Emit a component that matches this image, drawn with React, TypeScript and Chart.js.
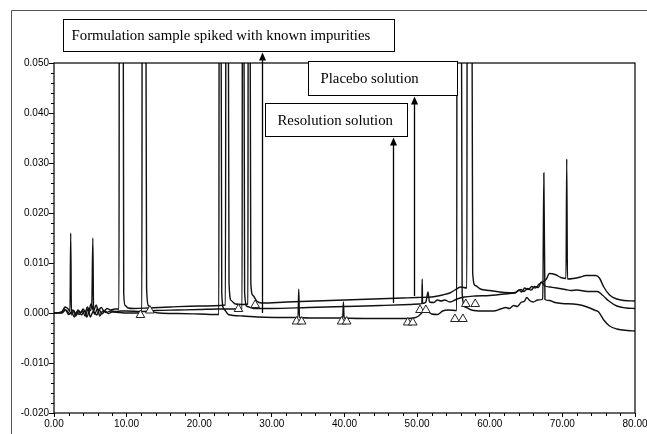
import React, { useEffect, useRef } from "react";
import { Chart, registerables } from "chart.js";

Chart.register(...registerables);

// ---------- data (time in min, absorbance in AU) ----------
const xMajorTicks = [0, 10, 20, 30, 40, 50, 60, 70, 80];
const yMajorTicks = [-0.02, -0.01, 0, 0.01, 0.02, 0.03, 0.04, 0.05];

// trace ending highest (formulation sample spiked)
const formulationTrace: [number, number][] = [
  [0, 0], [0.8, 0.0001], [1.2, 0.0004], [1.5, 0.0012], [1.9, 0.0009], [2.2, 0.0003], [2.3, 0.016], [2.4, -0.0004],
  [2.7, 0.0005], [3.0, -0.0002], [3.3, 0.0006], [3.7, 0.0001], [4.0, 0.0008], [4.3, 0.0002], [4.6, 0.0012],
  [4.9, 0.0004], [5.2, 0.0014], [5.35, 0.015], [5.45, 0.0004], [5.8, 0.0016], [6.1, 0.0005], [6.5, 0.0011],
  [6.9, 0.0004], [7.3, 0.0009], [7.8, 0.0006], [8.4, 0.0008], [8.95, 0.0008], [9.0, 0.09], [9.5, 0.09],
  [9.6, 0.004], [9.8, 0.0015], [10.2, 0.001], [11, 0.0009], [13, 0.001], [16, 0.0012], [20, 0.0014],
  [23.6, 0.0016], [23.7, 0.09], [23.95, 0.09], [24.1, 0.006], [24.4, 0.0025], [25, 0.0018], [26.0, 0.0017],
  [26.7, 0.0018], [26.75, 0.09], [26.95, 0.09], [27.1, 0.006], [27.4, 0.0035], [27.9, 0.0024], [28.6, 0.002],
  [32, 0.0022], [38, 0.0025], [44, 0.0028], [48, 0.003], [50, 0.0031], [52, 0.0032], [53.5, 0.0036],
  [54.5, 0.004], [55.2, 0.0046], [56, 0.0052], [56.85, 0.005], [56.9, 0.09], [57.5, 0.09], [57.65, 0.008],
  [58, 0.0055], [58.7, 0.0048], [60, 0.0045], [62, 0.0041], [63.5, 0.004], [64, 0.0046], [64.4, 0.0042],
  [64.8, 0.005], [65.3, 0.0047], [65.8, 0.0053], [66.3, 0.005], [66.8, 0.0058], [67.3, 0.0062], [67.8, 0.0068],
  [68.2, 0.0079], [69, 0.0077], [69.8, 0.0071], [70.5, 0.0069], [70.6, 0.0308], [70.7, 0.0068], [71.5, 0.0069],
  [72.5, 0.0072], [73.2, 0.0075], [74.6, 0.0075], [75.1, 0.007], [75.7, 0.0052], [76.5, 0.0036], [77.5, 0.0028],
  [78.5, 0.0025], [80, 0.0024],
];

// middle trace (placebo solution)
const placeboTrace: [number, number][] = [
  [0, 0], [1.0, 0.0001], [1.4, 0.0008], [1.8, 0.0004], [2.2, -0.0002], [2.6, 0.0006], [3.0, -0.0006],
  [3.4, 0.0003], [3.8, -0.0004], [4.2, 0.0005], [4.5, -0.0008], [4.8, 0.0002], [5.1, 0.0018], [5.6, -0.0002],
  [6.0, 0.0009], [6.3, -0.0006], [6.7, 0.0004], [7.2, 0.0001], [7.8, 0.0004], [8.5, 0.0003], [9.2, 0.0004],
  [10, 0.0004], [12, 0.0003], [14, 0.0005], [17, 0.0006], [20, 0.0007], [22.5, 0.0008], [24, 0.0008],
  [25.9, 0.0008], [25.95, 0.09], [26.1, 0.09], [26.25, 0.004], [26.6, 0.0013], [27.5, 0.0009], [30, 0.0009],
  [35, 0.0011], [40, 0.0013], [45, 0.0015], [49, 0.0017], [50.3, 0.0018], [50.65, 0.0019], [50.7, 0.0068],
  [50.75, 0.0019], [51.2, 0.0022], [51.5, 0.0042], [51.7, 0.0022], [52.3, 0.0021], [52.8, 0.0026],
  [53.3, 0.0024], [53.8, 0.0026], [54.5, 0.0022], [55.5, 0.0028], [56.5, 0.0032], [58, 0.0034], [60, 0.0035],
  [62, 0.0038], [63.5, 0.0041], [64.3, 0.0047], [64.7, 0.0043], [65.2, 0.0049], [65.7, 0.0046], [66.2, 0.0053],
  [66.7, 0.0051], [67.1, 0.0062], [67.6, 0.0054], [68.3, 0.0052], [69.2, 0.005], [70.4, 0.0047], [71.2, 0.0045],
  [72, 0.0046], [73.5, 0.0043], [74.8, 0.0043], [75.5, 0.0036], [76.4, 0.0024], [77.5, 0.0014], [78.8, 0.001],
  [80, 0.0009],
];

// lowest trace (resolution solution)
const resolutionTrace: [number, number][] = [
  [0, 0], [1.1, 0.0], [1.6, 0.0006], [2.0, -0.0003], [2.4, 0.0002], [2.8, -0.0008], [3.1, 0.0002],
  [3.5, -0.0003], [3.9, 0.0004], [4.3, -0.0006], [4.7, 0.0008], [5.0, -0.0008], [5.4, 0.0003], [5.9, -0.0004],
  [6.2, 0.0007], [6.6, -0.0002], [7.0, 0.0004], [7.5, -0.0001], [8.0, 0.0002], [9, 0.0001], [10, 0.0],
  [12.1, 0.0], [12.15, 0.09], [12.6, 0.09], [12.75, 0.005], [13.0, 0.0015], [13.5, 0.0004], [14.5, 0.0],
  [17, -0.0001], [20, -0.0002], [22.7, -0.0003], [22.75, 0.09], [22.95, 0.09], [23.1, 0.004], [23.4, 0.0008],
  [24, -0.0003], [26, -0.0006], [28, -0.0008], [33.6, -0.0009], [33.7, 0.0048], [33.8, -0.0009], [36, -0.001],
  [39.75, -0.001], [39.85, 0.0022], [39.95, -0.001], [44, -0.0011], [48, -0.0011], [49.5, -0.001],
  [50.2, -0.0006], [50.8, 0.0002], [51.3, 0.0004], [52, -0.0002], [52.8, -0.0003], [53.5, 0.0004],
  [54.3, 0.0006], [55.45, 0.0005], [55.5, 0.09], [56.05, 0.09], [56.2, 0.004], [56.6, 0.0012], [57.5, 0.0006],
  [59, 0.0004], [60.5, 0.0004], [61.5, 0.0008], [62.2, 0.0011], [62.7, 0.0009], [63.3, 0.0015], [63.8, 0.0013],
  [64.3, 0.0021], [64.8, 0.0024], [65.1, 0.0031], [65.5, 0.0025], [66, 0.0022], [66.6, 0.0026], [67.3, 0.0028],
  [67.45, 0.028], [67.6, 0.0027], [68.2, 0.0025], [69, 0.0021], [70, 0.0019], [71.5, 0.0018], [72.5, 0.0016],
  [73.4, 0.0012], [74.4, 0.0006], [75, 0.0002], [75.7, -0.0014], [76.5, -0.0026], [77.5, -0.0032],
  [79, -0.0035], [80, -0.0036],
];

// integration markers (triangles)
const markerTimes = [11.9, 13.2, 25.4, 27.7, 33.4, 34.1, 39.6, 40.3, 48.7, 49.4, 50.4, 51.2, 55.2, 56.3, 56.7, 58.0];
const markerValues = [-0.0004, 0.0005, 0.0008, 0.0016, -0.0017, -0.0017, -0.0017, -0.0017, -0.0019, -0.0019,
  0.0006, 0.0006, -0.0012, -0.0012, 0.0018, 0.0018];

// annotation labels
const labelTexts = ["Formulation sample spiked with known impurities", "Placebo solution", "Resolution solution"];

// annotation layout (data units)
const annotationLayout = [
  { x0: 1.24, x1: 46.8, yTop: 0.0588, yBottom: 0.0524, arrowX: 28.64, arrowBase: 0.0, pad: 8 },
  { x0: 34.98, x1: 55.49, yTop: 0.0504, yBottom: 0.0436, arrowX: 49.57, arrowBase: 0.0034, pad: 12 },
  { x0: 29.05, x1: 48.6, yTop: 0.042, yBottom: 0.0354, arrowX: 46.68, arrowBase: 0.002, pad: 12 },
];

const toXY = (pts: [number, number][]) => pts.map(([x, y]) => ({ x, y }));

const decorPlugin = {
  id: "decor",
  beforeDraw(chart: any) {
    const ctx = chart.ctx;
    ctx.save();
    ctx.strokeStyle = "#555";
    ctx.lineWidth = 1;
    ctx.beginPath();
    ctx.moveTo(11.5, chart.height);
    ctx.lineTo(11.5, 10.5);
    ctx.lineTo(chart.width, 10.5);
    ctx.stroke();
    ctx.restore();
  },
  afterDraw(chart: any) {
    const ctx = chart.ctx;
    const xs = chart.scales.x;
    const ys = chart.scales.y;
    const area = chart.chartArea;
    ctx.save();
    // plot frame
    ctx.strokeStyle = "#000";
    ctx.lineWidth = 1.2;
    ctx.strokeRect(area.left, area.top, area.right - area.left, area.bottom - area.top);
    // minor ticks
    ctx.lineWidth = 1;
    ctx.beginPath();
    for (let i = 0; i <= 35; i++) {
      if (i % 5 === 0) continue;
      const y = Math.round(ys.getPixelForValue(-0.02 + i * 0.002)) + 0.5;
      ctx.moveTo(area.left - 3, y);
      ctx.lineTo(area.left, y);
    }
    for (let i = 0; i <= 40; i++) {
      if (i % 5 === 0) continue;
      const x = Math.round(xs.getPixelForValue(i * 2)) + 0.5;
      ctx.moveTo(x, area.bottom);
      ctx.lineTo(x, area.bottom + 3);
    }
    ctx.stroke();

    // annotations
    annotationLayout.forEach((a, i) => {
      const left = Math.round(xs.getPixelForValue(a.x0)) + 0.5;
      const right = Math.round(xs.getPixelForValue(a.x1)) + 0.5;
      const top = Math.round(ys.getPixelForValue(a.yTop)) + 0.5;
      const bottom = Math.round(ys.getPixelForValue(a.yBottom)) + 0.5;
      const ax = Math.round(xs.getPixelForValue(a.arrowX)) + 0.5;
      const ab = ys.getPixelForValue(a.arrowBase);
      // arrow shaft
      ctx.strokeStyle = "#000";
      ctx.lineWidth = 1.3;
      ctx.beginPath();
      ctx.moveTo(ax, ab);
      ctx.lineTo(ax, bottom + 6);
      ctx.stroke();
      // arrow head
      ctx.fillStyle = "#000";
      ctx.beginPath();
      ctx.moveTo(ax, bottom + 1);
      ctx.lineTo(ax - 3.5, bottom + 9);
      ctx.lineTo(ax + 3.5, bottom + 9);
      ctx.closePath();
      ctx.fill();
      // box
      ctx.fillStyle = "#fff";
      ctx.fillRect(left, top, right - left, bottom - top);
      ctx.lineWidth = 1;
      ctx.strokeStyle = "#000";
      ctx.strokeRect(left, top, right - left, bottom - top);
      // text
      ctx.fillStyle = "#000";
      ctx.font = "14.8px 'Liberation Serif', 'Times New Roman', serif";
      ctx.textBaseline = "middle";
      ctx.textAlign = "left";
      ctx.fillText(labelTexts[i], left + a.pad, (top + bottom) / 2 + 1);
    });
    ctx.restore();
  },
};

export default function App() {
  const ref = useRef<HTMLCanvasElement | null>(null);

  useEffect(() => {
    if (!ref.current) return;
    const lineStyle = {
      borderColor: "#111",
      borderWidth: 1.4,
      pointRadius: 0,
      fill: false,
      cubicInterpolationMode: "monotone" as const,
      order: 1,
    };
    const axisFont = { family: "'Liberation Sans', Arial, sans-serif", size: 10 };
    const chart = new Chart(ref.current, {
      type: "line",
      data: {
        datasets: [
          {
            label: "markers",
            data: markerTimes.map((t, i) => ({ x: t, y: markerValues[i] })),
            showLine: false,
            pointStyle: "triangle",
            pointRadius: 5,
            pointBackgroundColor: "#fff",
            pointBorderColor: "#222",
            pointBorderWidth: 1,
            order: 0,
          } as any,
          { label: "Formulation", data: toXY(formulationTrace), ...lineStyle } as any,
          { label: "Placebo", data: toXY(placeboTrace), ...lineStyle } as any,
          { label: "Resolution", data: toXY(resolutionTrace), ...lineStyle } as any,
        ],
      },
      options: {
        responsive: false,
        animation: false,
        events: [],
        layout: { padding: { left: 0, top: 63, right: 12, bottom: 0 } },
        plugins: { legend: { display: false }, tooltip: { enabled: false } },
        scales: {
          x: {
            type: "linear",
            min: 0,
            max: 80,
            afterBuildTicks: (s: any) => {
              s.ticks = xMajorTicks.map((v) => ({ value: v }));
            },
            ticks: {
              autoSkip: false,
              maxRotation: 0,
              color: "#000",
              font: axisFont,
              padding: 1,
              callback: (v: any) => Number(v).toFixed(2),
            },
            grid: { drawOnChartArea: false, drawTicks: true, tickLength: 4, color: "#000" },
            border: { display: false },
            afterFit: (s: any) => {
              s.height = 21;
              s.paddingLeft = 0;
              s.paddingRight = 0;
            },
          },
          y: {
            type: "linear",
            min: -0.02,
            max: 0.05,
            afterBuildTicks: (s: any) => {
              s.ticks = yMajorTicks.map((v) => ({ value: v }));
            },
            ticks: {
              autoSkip: false,
              color: "#000",
              font: axisFont,
              padding: 0,
              callback: (v: any) => Number(v).toFixed(3),
            },
            grid: { drawOnChartArea: false, drawTicks: true, tickLength: 5, color: "#000" },
            border: { display: false },
            afterFit: (s: any) => {
              s.width = 54;
              s.paddingTop = 0;
              s.paddingBottom = 0;
            },
          },
        },
      } as any,
      plugins: [decorPlugin],
    });
    return () => chart.destroy();
  }, []);

  return (
    <div style={{ position: "absolute", left: 0, top: 0, width: 647, height: 434, background: "#fff" }}>
      <canvas ref={ref} width={647} height={434} style={{ display: "block", width: 647, height: 434 }} />
    </div>
  );
}
